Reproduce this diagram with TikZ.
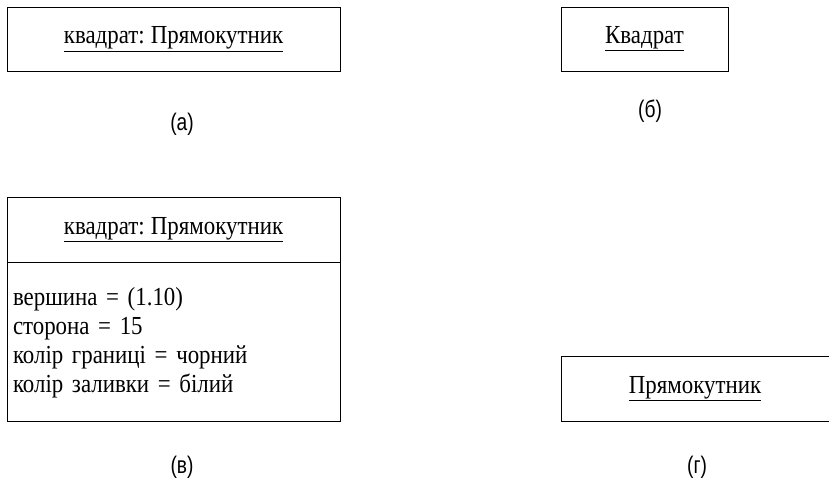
\documentclass[tikz,border=0pt]{standalone}
\usepackage{fontspec}
\setmainfont[FakeStretch=0.88, WordSpace=0.75]{Liberation Serif}
\newfontfamily\capfont[FakeStretch=0.8]{Liberation Sans}
\usetikzlibrary{positioning}

\tikzset{
  objbox/.style={draw, rectangle, thick, inner sep=0pt, font=\fontsize{26}{29}\selectfont},
  caption/.style={inner sep=0pt, font=\capfont\fontsize{24}{28}\selectfont}
}

\begin{document}
\begin{tikzpicture}[x=1pt, y=-1pt]

  \useasboundingbox (0,0) rectangle (829,485);

  % object and class boxes
  \node[objbox, minimum width=333pt, minimum height=64pt] (obja) at (173.5,39) {\underline{квадрат: Прямокутник}};
  \node[objbox, minimum width=167pt, minimum height=64pt] (clsb) at (644.5,39) {\underline{Квадрат}};

  \node[objbox, minimum width=333pt, minimum height=65pt] (objv) at (173.5,229.5) {\underline{квадрат: Прямокутник}};
  \node[objbox, minimum width=333pt, minimum height=159pt, below=0pt of objv,
        align=left, text width=321pt] (attrv)
        {вершина = (1.10)\\сторона = 15\\колір границі = чорний\\колір заливки = білий};

  \node[objbox, minimum width=268pt, minimum height=65pt] (clsg) at (695,388.5) {\underline{Прямокутник}};

  % captions
  \node[caption] (capa) at (182,124) {(а)};
  \node[caption] (capb) at (650,111) {(б)};
  \node[caption] (capv) at (182,467) {(в)};
  \node[caption] (capg) at (697,467) {(г)};

\end{tikzpicture}
\end{document}
